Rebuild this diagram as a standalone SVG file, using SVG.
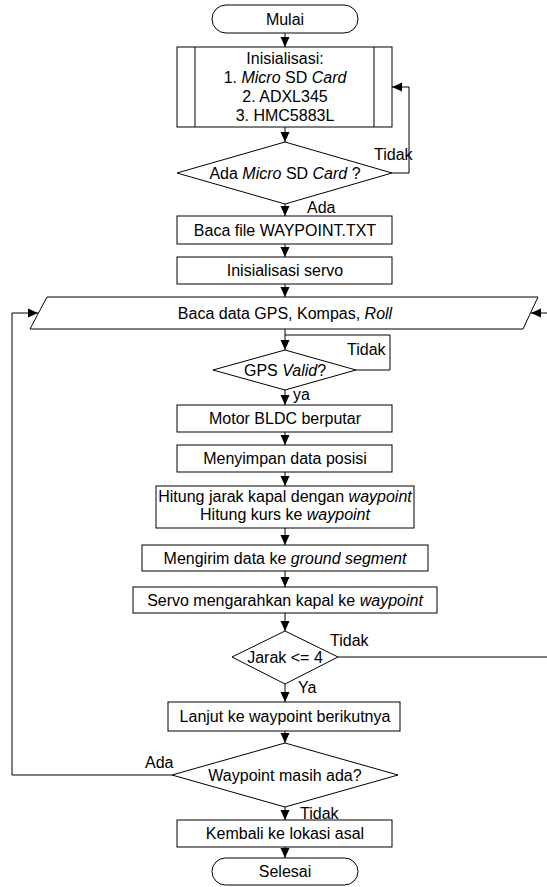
<svg xmlns="http://www.w3.org/2000/svg" width="547" height="887" viewBox="0 0 547 887">
<style>
.s{fill:#fff;stroke:#000;stroke-width:1}
.c{fill:none;stroke:#000;stroke-width:1}
text{font-family:"Liberation Sans",Arial,sans-serif;font-size:16px;fill:#000}
.m{text-anchor:middle}
.i{font-style:italic}
</style>
<defs>
<marker id="a" markerUnits="userSpaceOnUse" markerWidth="10" markerHeight="10" viewBox="0 0 10 10" refX="10" refY="5" orient="auto">
<path d="M0,0.5 L10,5 L0,9.5 Z" fill="#000"/>
</marker>
</defs>
<rect width="547" height="887" fill="#fff"/>
<g id="connectors">
<path class="c" d="M285,33 V47" marker-end="url(#a)"/>
<path class="c" d="M285,127 V142" marker-end="url(#a)"/>
<path class="c" d="M392,173 H409 V87 H392" marker-end="url(#a)"/>
<path class="c" d="M285,204 V216" marker-end="url(#a)"/>
<path class="c" d="M285,244 V257" marker-end="url(#a)"/>
<path class="c" d="M285,284 V297" marker-end="url(#a)"/>
<path class="c" d="M285,329 V350" marker-end="url(#a)"/>
<path class="c" d="M356,370 H390 V335 H285"/>
<path class="c" d="M285,390 V405" marker-end="url(#a)"/>
<path class="c" d="M285,432 V445" marker-end="url(#a)"/>
<path class="c" d="M285,472 V486" marker-end="url(#a)"/>
<path class="c" d="M285,528 V545" marker-end="url(#a)"/>
<path class="c" d="M285,571 V587" marker-end="url(#a)"/>
<path class="c" d="M285,613 V631" marker-end="url(#a)"/>
<path class="c" d="M285,684 V702" marker-end="url(#a)"/>
<path class="c" d="M285,731 V743" marker-end="url(#a)"/>
<path class="c" d="M285,807 V820" marker-end="url(#a)"/>
<path class="c" d="M285,847 V858" marker-end="url(#a)"/>
<path class="c" d="M338,657 H549 V313 H531" marker-end="url(#a)"/>
<path class="c" d="M172,775 H12 V313 H38" marker-end="url(#a)"/>
<text x="374" y="160">Tidak</text>
<text x="307" y="213">Ada</text>
<text x="347" y="355">Tidak</text>
<text x="293" y="400">ya</text>
<text x="330" y="646">Tidak</text>
<text x="298" y="693">Ya</text>
<text x="145" y="768">Ada</text>
<text x="300" y="819">Tidak</text>
</g>
<g id="mulai"><rect class="s" x="212" y="5" width="146" height="28" rx="14"/><text class="m" x="285" y="25">Mulai</text></g>
<g id="inisialisasi">
<rect class="s" x="177" y="47" width="215" height="80"/>
<path class="c" d="M195,47 V127 M374,47 V127"/>
<text class="m" x="285" y="64">Inisialisasi:</text>
<text class="m" x="285" y="83">1. <tspan class="i">Micro</tspan> SD <tspan class="i">Card</tspan></text>
<text class="m" x="285" y="102">2. ADXL345</text>
<text class="m" x="285" y="121">3. HMC5883L</text>
</g>
<g id="cek-sd"><path class="s" d="M285,142 L392,173 L285,204 L177,173 Z"/><text class="m" x="285" y="179">Ada <tspan class="i">Micro</tspan> SD <tspan class="i">Card</tspan> ?</text></g>
<g id="baca-file"><rect class="s" x="177" y="216" width="215" height="28"/><text class="m" x="285" y="236">Baca file WAYPOINT.TXT</text></g>
<g id="init-servo"><rect class="s" x="177" y="257" width="215" height="27"/><text class="m" x="285" y="276">Inisialisasi servo</text></g>
<g id="baca-data"><path class="s" d="M47,297 L538,297 L523,329 L30,329 Z"/><text class="m" x="285" y="319">Baca data GPS, Kompas, <tspan class="i">Roll</tspan></text></g>
<g id="gps-valid"><path class="s" d="M285,350 L356,370 L285,390 L213,370 Z"/><text class="m" x="285" y="376">GPS <tspan class="i">Valid</tspan>?</text></g>
<g id="motor"><rect class="s" x="177" y="405" width="215" height="27"/><text class="m" x="285" y="424">Motor BLDC berputar</text></g>
<g id="simpan"><rect class="s" x="177" y="445" width="215" height="27"/><text class="m" x="285" y="464">Menyimpan data posisi</text></g>
<g id="hitung"><rect class="s" x="156" y="486" width="258" height="42"/><text class="m" x="285" y="502">Hitung jarak kapal dengan <tspan class="i">waypoint</tspan></text><text class="m" x="285" y="520">Hitung kurs ke <tspan class="i">waypoint</tspan></text></g>
<g id="kirim"><rect class="s" x="142" y="545" width="286" height="26"/><text class="m" x="285" y="564">Mengirim data ke <tspan class="i">ground segment</tspan></text></g>
<g id="servo"><rect class="s" x="133" y="587" width="304" height="26"/><text class="m" x="285" y="606">Servo mengarahkan kapal ke <tspan class="i">waypoint</tspan></text></g>
<g id="jarak"><path class="s" d="M285,631 L338,657 L285,684 L232,657 Z"/><text class="m" x="285" y="663">Jarak &lt;= 4</text></g>
<g id="lanjut"><rect class="s" x="168" y="702" width="232" height="29"/><text class="m" x="285" y="722">Lanjut ke waypoint berikutnya</text></g>
<g id="waypoint-ada"><path class="s" d="M285,743 L398,775 L285,807 L172,775 Z"/><text class="m" x="285" y="781">Waypoint masih ada?</text></g>
<g id="kembali"><rect class="s" x="177" y="820" width="215" height="27"/><text class="m" x="285" y="839">Kembali ke lokasi asal</text></g>
<g id="selesai"><rect class="s" x="212" y="858" width="146" height="27" rx="13.5"/><text class="m" x="285" y="877">Selesai</text></g>
</svg>
